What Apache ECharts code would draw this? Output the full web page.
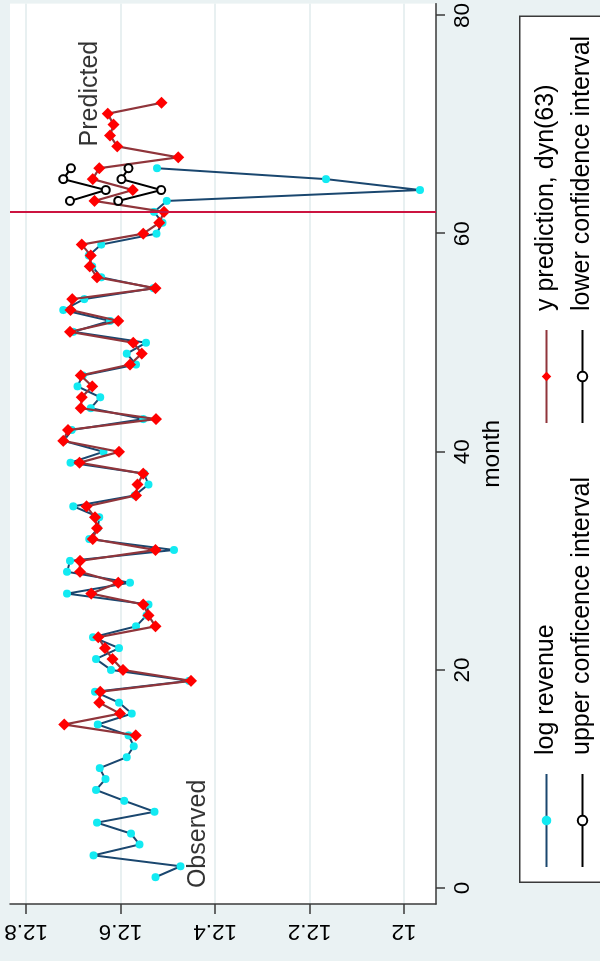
<!DOCTYPE html>
<html>
<head>
<meta charset="utf-8">
<script src="https://cdn.jsdelivr.net/npm/echarts@6/dist/echarts.min.js"></script>
<style>
  html, body { margin: 0; padding: 0; width: 600px; height: 961px; overflow: hidden; background: #EAF2F3; }
  /* The chart is laid out landscape and turned a quarter turn counter-clockwise onto the portrait page */
  #chart { position: absolute; left: 0; top: 0; width: 961px; height: 600px;
           transform-origin: 0 0; transform: translate(0, 961px) rotate(-90deg); }
</style>
</head>
<body>
<div id="chart"></div>
<script>
// Observed log revenue, months 1-66
const revenueFirstMonth = 1;
const logRevenue = [
  12.526, 12.473, 12.657, 12.560, 12.578, 12.650, 12.528, 12.592, 12.652, 12.632,
  12.644, 12.587, 12.572, 12.583, 12.648, 12.576, 12.603, 12.654, 12.455, 12.620,
  12.652, 12.603, 12.658, 12.567, 12.545, 12.541, 12.713, 12.580, 12.713, 12.707,
  12.487, 12.666, 12.648, 12.645, 12.700, 12.570, 12.541, 12.550, 12.706, 12.636,
  12.720, 12.703, 12.552, 12.663, 12.643, 12.691, 12.680, 12.567, 12.587, 12.546,
  12.700, 12.622, 12.721, 12.677, 12.530, 12.641, 12.660, 12.667, 12.641, 12.524,
  12.511, 12.529, 12.502, 11.966, 12.165, 12.523
];

// Model prediction, months 14-72 (dynamic from month 63)
const predictionFirstMonth = 14;
const yPrediction = [
  12.568, 12.719, 12.601, 12.645, 12.643, 12.451, 12.595, 12.617, 12.633, 12.647,
  12.526, 12.541, 12.552, 12.662, 12.605, 12.686, 12.686, 12.526, 12.659, 12.650,
  12.654, 12.672, 12.567, 12.564, 12.552, 12.687, 12.603, 12.721, 12.711, 12.525,
  12.684, 12.682, 12.660, 12.684, 12.580, 12.555, 12.573, 12.707, 12.605, 12.706,
  12.702, 12.526, 12.650, 12.665, 12.663, 12.682, 12.552, 12.518, 12.508, 12.655,
  12.574, 12.659, 12.645, 12.478, 12.607, 12.622, 12.615, 12.627, 12.513
];

// Confidence bands, months 63-66
const intervalFirstMonth = 63;
const upperCI = [12.707, 12.631, 12.721, 12.705];
const lowerCI = [12.605, 12.514, 12.598, 12.583];

const forecastLine = 62;
const monthTicks = [0, 20, 40, 60, 80];
const revenueTicks = [12, 12.2, 12.4, 12.6, 12.8];
const noteText = ['Observed', 'Predicted'];
const noteMonth = [0, 68];
const noteValue = [12.436, 12.664];

const FONT = "'Liberation Sans', Arial, Helvetica, sans-serif";

function pairs(first, values) {
  return values.map((v, i) => [first + i, v]);
}

const chart = echarts.init(document.getElementById('chart'), null, { renderer: 'canvas' });

const legendCommon = {
  orient: 'vertical',
  top: 529,
  itemWidth: 93,
  itemHeight: 12,
  itemGap: 11,
  selectedMode: false,
  textStyle: { fontFamily: FONT, fontSize: 25, lineHeight: 25, color: '#000', padding: [0, 0, 0, 14] }
};

chart.setOption({
  animation: false,
  backgroundColor: '#EAF2F3',
  textStyle: { fontFamily: FONT },
  grid: { left: 57, top: 10, width: 906, height: 426, show: true, backgroundColor: '#fff', borderWidth: 0 },
  graphic: [{
    type: 'rect', left: 78, top: 519, z: 0,
    shape: { width: 866, height: 120 },
    style: { fill: '#fff', stroke: '#3a3a3a', lineWidth: 1.5 }
  }],
  legend: [
    Object.assign({ left: 88, data: ['log revenue', 'upper conficence interval'] }, legendCommon),
    Object.assign({ left: 532, data: ['y prediction, dyn(63)', 'lower confidence interval'] }, legendCommon)
  ],
  xAxis: {
    type: 'value',
    min: -1.458, max: 81.09,
    axisLine: { onZero: false, lineStyle: { color: '#3a3a3a', width: 1.5 } },
    axisTick: { show: true, customValues: monthTicks, length: 9, lineStyle: { color: '#3a3a3a', width: 1.5 } },
    axisLabel: { customValues: monthTicks, fontSize: 22.5, color: '#000', margin: 15, fontFamily: FONT },
    splitLine: { show: false },
    name: 'month', nameLocation: 'middle', nameGap: 44,
    nameTextStyle: { fontSize: 24.5, color: '#000', fontFamily: FONT }
  },
  yAxis: {
    type: 'value',
    min: 11.9323, max: 12.8339,
    axisLine: { show: true, onZero: false, lineStyle: { color: '#3a3a3a', width: 1.5 } },
    axisTick: { show: true, customValues: revenueTicks, length: 10, lineStyle: { color: '#3a3a3a', width: 1.5 } },
    axisLabel: { customValues: revenueTicks, rotate: 90, fontSize: 22.5, color: '#000', margin: 16, fontFamily: FONT },
    splitLine: { show: true, lineStyle: { color: '#E1EBED', width: 1.5 } }
  },
  series: [
    {
      name: 'forecast start', type: 'line', data: [], z: 1,
      markLine: {
        silent: true, symbol: 'none', label: { show: false },
        lineStyle: { color: '#CC1440', width: 2, type: 'solid' },
        data: [{ xAxis: forecastLine }]
      }
    },
    {
      name: 'log revenue', type: 'line', z: 3,
      data: pairs(revenueFirstMonth, logRevenue),
      symbol: 'circle', symbolSize: 8,
      itemStyle: { color: '#12EAF2' },
      lineStyle: { color: '#1A476F', width: 2 }
    },
    {
      name: 'y prediction, dyn(63)', type: 'line', z: 4,
      data: pairs(predictionFirstMonth, yPrediction),
      symbol: 'diamond', symbolSize: 12,
      itemStyle: { color: '#FF0000' },
      lineStyle: { color: '#90353B', width: 2.2 }
    },
    {
      name: 'upper conficence interval', type: 'line', z: 5,
      data: pairs(intervalFirstMonth, upperCI),
      symbol: 'emptyCircle', symbolSize: 8,
      itemStyle: { color: '#000', borderWidth: 1.8 },
      lineStyle: { color: '#000', width: 2 }
    },
    {
      name: 'lower confidence interval', type: 'line', z: 5,
      data: pairs(intervalFirstMonth, lowerCI),
      symbol: 'emptyCircle', symbolSize: 8,
      itemStyle: { color: '#000', borderWidth: 1.8 },
      lineStyle: { color: '#000', width: 2 }
    },
    {
      name: 'notes', type: 'scatter', z: 6, silent: true,
      symbolSize: 1,
      itemStyle: { color: 'rgba(0,0,0,0)' },
      data: noteText.map((t, i) => [noteMonth[i], noteValue[i], t]),
      label: {
        show: true, position: 'inside', align: 'left', verticalAlign: 'middle',
        fontSize: 25, color: '#000', fontFamily: FONT,
        formatter: p => p.data[2]
      }
    }
  ]
});
</script>
</body>
</html>
